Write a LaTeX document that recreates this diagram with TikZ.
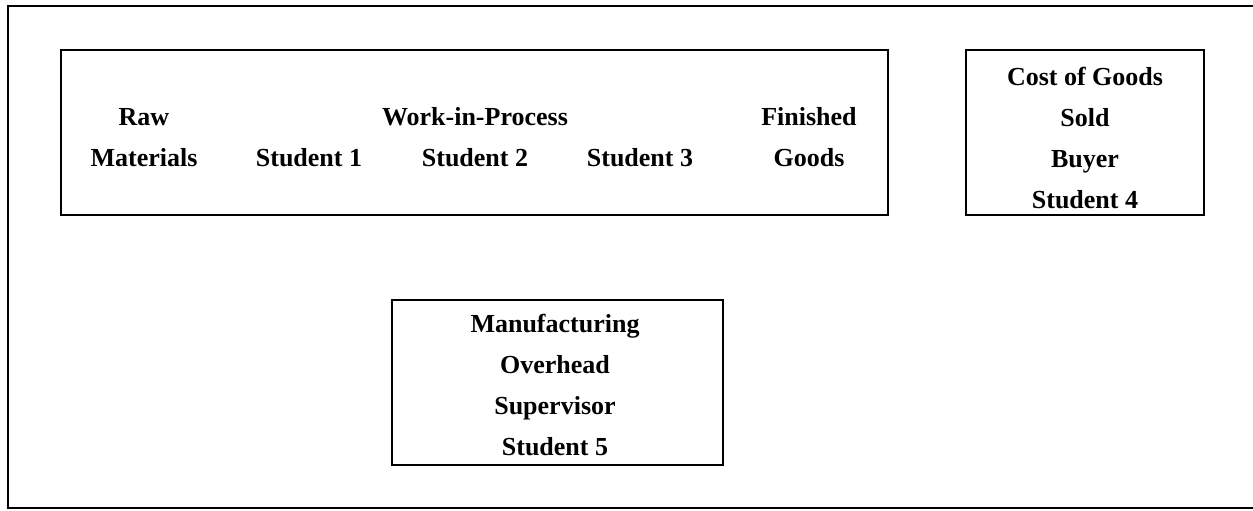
\documentclass[tikz,border=0pt]{standalone}
\usepackage{fontspec}
\setmainfont{Liberation Serif}
\usetikzlibrary{positioning}

\begin{document}
\begin{tikzpicture}[x=0.5pt, y=-0.5pt, every node/.style={font=\bfseries\fontsize{13}{20.5}\selectfont}]
\tikzstyle{account}=[rectangle, draw, line width=1.25pt, inner sep=0pt, minimum height=82.5pt]
\tikzstyle{entry}=[align=center, inner sep=0pt]
\useasboundingbox (0,0) rectangle (1253,510);
% outer frame, right side runs off the page
\draw[line width=1.1pt] (8,6) rectangle (1262,508);
% account boxes
\node[account, minimum width=413.5pt] (inventory) at (474.5,132.5) {};
\node[account, minimum width=119pt] (cogs) at (1085,132.5) {};
\node[account, minimum width=165.5pt] (overhead) at (557.5,382.5) {};
% texts
\node[entry] (raw) at (144,137.5) {Raw\\Materials};
\node[entry] (student1) at (309,158) {Student 1};
\node[entry] (wip) at (475,137.5) {Work-in-Process\\Student 2};
\node[entry] (student3) at (640,158) {Student 3};
\node[entry] (finished) at (809,137.5) {Finished\\Goods};
\node[entry] (buyer) at (1085,137.5) {Cost of Goods\\Sold\\Buyer\\Student 4};
\node[entry] (supervisor) at (555,385) {Manufacturing\\Overhead\\Supervisor\\Student 5};
\end{tikzpicture}
\end{document}
